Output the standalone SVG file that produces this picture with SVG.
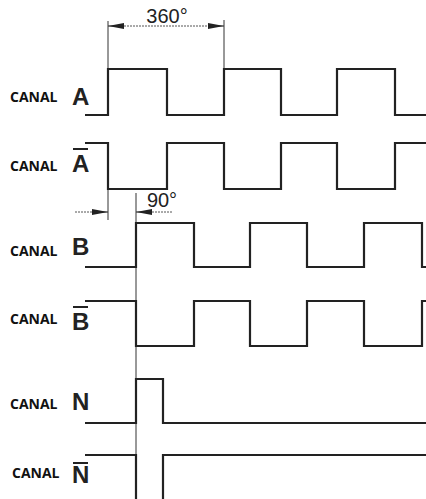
<svg xmlns="http://www.w3.org/2000/svg" width="426" height="499" viewBox="0 0 426 499">
<defs>
<marker id="ah" viewBox="0 0 16 6" refX="16" refY="3" markerWidth="16" markerHeight="6" markerUnits="userSpaceOnUse" orient="auto">
<path d="M0,0 L16,3 L0,6 Z" fill="#222"/>
</marker>
</defs>
<style>
.w{fill:none;stroke:#222;stroke-width:2.2;stroke-linejoin:miter}
.t{fill:none;stroke:#333;stroke-width:1}
.d{fill:none;stroke:#555;stroke-width:1;stroke-dasharray:2 1}
.c{font-family:"Open Sans","DejaVu Sans",sans-serif;font-weight:700;font-size:14px;fill:#111}
.L{font-family:"Liberation Sans",Arial,sans-serif;font-weight:700;font-size:24px;fill:#222}
.n{font-family:"Liberation Sans",Arial,sans-serif;font-size:20px;fill:#222}
.ob{stroke:#222;stroke-width:2}
</style>
<rect width="426" height="499" fill="#fff"/>
<g id="connectors">
<line class="t" x1="108" y1="21" x2="108" y2="68"/>
<line class="t" x1="224" y1="20" x2="224" y2="68"/>
<line class="d" x1="124" y1="26" x2="208" y2="26"/>
<line class="t" x1="124" y1="26" x2="108" y2="26" marker-end="url(#ah)"/>
<line class="t" x1="208" y1="26" x2="224" y2="26" marker-end="url(#ah)"/>
<line class="t" x1="108" y1="189" x2="108" y2="220"/>
<line class="t" x1="136" y1="193" x2="136" y2="455"/>
<line class="d" x1="75" y1="212" x2="92" y2="212"/>
<line class="t" x1="92" y1="212" x2="108" y2="212" marker-end="url(#ah)"/>
<line class="t" x1="152" y1="212" x2="136" y2="212" marker-end="url(#ah)"/>
<line class="d" x1="152" y1="212" x2="172" y2="212"/>
</g>
<text class="n" x="167" y="23" text-anchor="middle">360°</text>
<text class="n" x="162" y="207" text-anchor="middle">90°</text>
<g id="canalA">
<text class="c" x="10" y="102">CANAL</text>
<text class="L" x="72" y="105">A</text>
<polyline class="w" points="85,115 108,115 108,69 167,69 167,115 224,115 224,69 281,69 281,115 337,115 337,69 395,69 395,115 426,115"/>
</g>
<g id="canalAbar">
<text class="c" x="10" y="171">CANAL</text>
<text class="L" x="72" y="172">A</text>
<line class="ob" x1="73" y1="149" x2="88" y2="149"/>
<polyline class="w" points="85,143 108,143 108,189 167,189 167,143 224,143 224,189 281,189 281,143 337,143 337,189 395,189 395,143 426,143"/>
</g>
<g id="canalB">
<text class="c" x="10" y="256">CANAL</text>
<text class="L" x="72" y="255">B</text>
<polyline class="w" points="85,267 136,267 136,223 194,223 194,267 250,267 250,223 307,223 307,267 364,267 364,223 422,223 422,267 426,267"/>
</g>
<g id="canalBbar">
<text class="c" x="10" y="324">CANAL</text>
<text class="L" x="72" y="330">B</text>
<line class="ob" x1="73" y1="307" x2="88" y2="307"/>
<polyline class="w" points="85,301 136,301 136,346 194,346 194,301 250,301 250,346 307,346 307,301 364,301 364,346 422,346 422,301 426,301"/>
</g>
<g id="canalN">
<text class="c" x="10" y="409">CANAL</text>
<text class="L" x="72" y="410">N</text>
<polyline class="w" points="85,423 136,423 136,379 163,379 163,423 426,423"/>
</g>
<g id="canalNbar">
<text class="c" x="12" y="478">CANAL</text>
<text class="L" x="72" y="483">N</text>
<line class="ob" x1="73" y1="463" x2="88" y2="463"/>
<polyline class="w" points="85,455 136,455 136,499"/>
<polyline class="w" points="163,499 163,455 426,455"/>
</g>
</svg>
